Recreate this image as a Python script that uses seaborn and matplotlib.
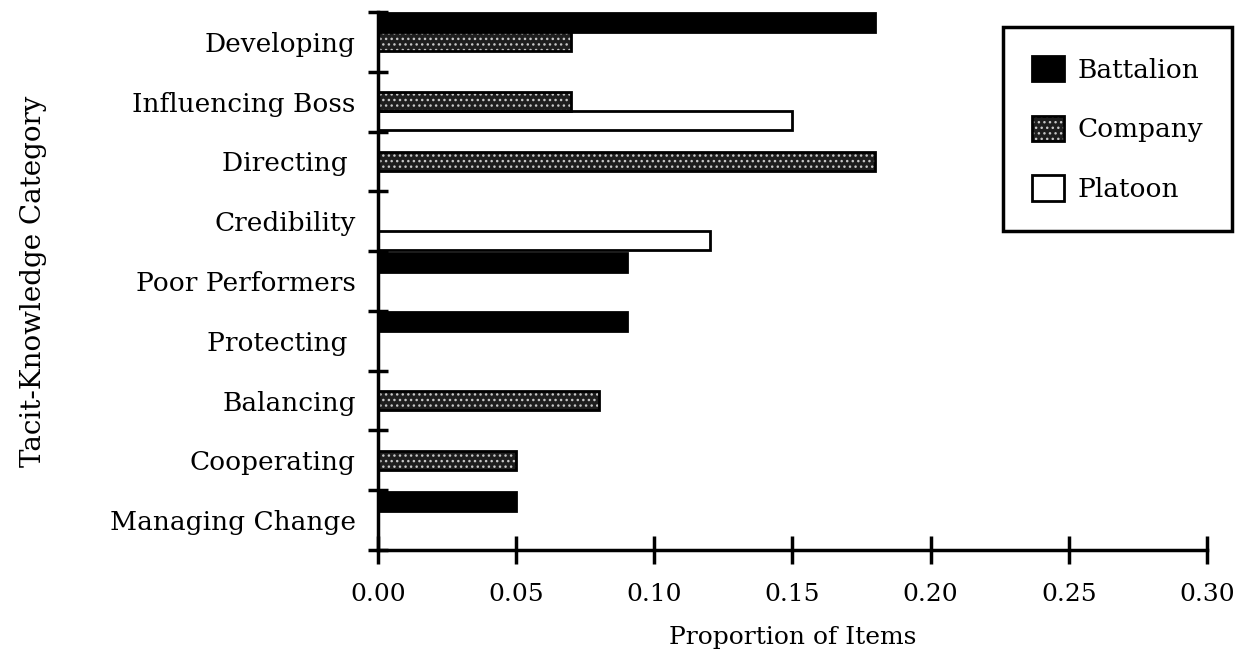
import matplotlib
matplotlib.use("Agg")
import matplotlib.pyplot as plt
from matplotlib.patches import Patch, Rectangle
from matplotlib.legend_handler import HandlerTuple
from matplotlib.ticker import FixedLocator
import pandas as pd
import seaborn as sns

CATEGORIES = [
    "Developing", "Influencing Boss", "Directing ", "Credibility",
    "Poor Performers", "Protecting ", "Balancing", "Cooperating",
    "Managing Change",
]
LEVELS = ["Battalion", "Company", "Platoon"]
BATTALION = [0.18, 0.00, 0.00, 0.00, 0.09, 0.09, 0.00, 0.00, 0.05]
COMPANY = [0.07, 0.07, 0.18, 0.00, 0.00, 0.00, 0.08, 0.05, 0.00]
PLATOON = [0.00, 0.15, 0.00, 0.12, 0.00, 0.00, 0.00, 0.00, 0.00]
X_TICKS = [0.00, 0.05, 0.10, 0.15, 0.20, 0.25, 0.30]

FACE = {"Battalion": "black", "Company": "#1e1e1e", "Platoon": "white"}


def main() -> None:
    sns.set_theme(style="white")
    plt.rcParams["font.family"] = ["DejaVu Serif"]
    plt.rcParams["hatch.linewidth"] = 1.0
    for key in ("text.color", "axes.labelcolor", "xtick.color", "ytick.color"):
        plt.rcParams[key] = "black"

    rows = []
    for level, vals in zip(LEVELS, (BATTALION, COMPANY, PLATOON)):
        for cat, v in zip(CATEGORIES, vals):
            rows.append({"category": cat, "level": level, "prop": v})
    df = pd.DataFrame(rows)

    fig = plt.figure(figsize=(12.4, 6.56), dpi=100)
    ax = fig.add_axes([0.3048, 0.1616, 0.6686, 0.8201])
    sns.barplot(data=df, y="category", x="prop", hue="level", order=CATEGORIES,
                hue_order=LEVELS, orient="h", width=0.95, ax=ax,
                palette=FACE, saturation=1, legend=False)

    for level, cont in zip(LEVELS, ax.containers):
        for p in cont:
            p.set_facecolor(FACE[level])
            if level == "Company":
                # white dot texture, black outline drawn on top
                p.set_edgecolor("#c8c8c8")
                p.set_hatch("...")
                p.set_linewidth(0)
                ax.add_patch(Rectangle(p.get_xy(), p.get_width(), p.get_height(),
                                       fill=False, edgecolor="black", linewidth=2))
            else:
                p.set_edgecolor("black")
                p.set_linewidth(2)

    ax.set_xlim(0, 0.30)
    ax.set_ylim(len(CATEGORIES) - 0.5, -0.5)
    ax.set_xticks(X_TICKS)
    ax.set_xticklabels([f"{t:.2f}" for t in X_TICKS])
    ax.yaxis.set_minor_locator(FixedLocator([i - 0.5 for i in range(len(CATEGORIES) + 1)]))
    ax.tick_params(axis="y", which="major", length=0, pad=16, labelsize=19)
    ax.tick_params(axis="y", which="minor", left=True, direction="inout", length=14, width=2.5)
    ax.tick_params(axis="x", which="major", bottom=True, direction="inout", length=20,
                   width=2.5, pad=14, labelsize=18)

    for side in ("top", "right"):
        ax.spines[side].set_visible(False)
    for side in ("left", "bottom"):
        ax.spines[side].set_color("black")
        ax.spines[side].set_linewidth(2.5)

    ax.set_xlabel("Proportion of Items", fontsize=18, labelpad=14)
    ax.set_ylabel("Tacit-Knowledge Category", fontsize=20, labelpad=45)

    handles = [
        Patch(facecolor="black", edgecolor="black", linewidth=2),
        (Patch(facecolor=FACE["Company"], edgecolor="#c8c8c8", hatch="...", linewidth=0),
         Patch(fill=False, edgecolor="black", linewidth=2)),
        Patch(facecolor="white", edgecolor="black", linewidth=2),
    ]
    leg = fig.legend(handles=handles, labels=LEVELS, loc="upper right",
                     bbox_to_anchor=(0.9935, 0.9588),
                     handler_map={tuple: HandlerTuple(ndivide=1, pad=0)},
                     fontsize=19, frameon=True, fancybox=False, handlelength=1.2,
                     handleheight=1.1, handletextpad=0.5, labelspacing=1.25,
                     borderpad=1.1, borderaxespad=0)
    leg.get_frame().set_edgecolor("black")
    leg.get_frame().set_linewidth(2.5)
    leg.get_frame().set_alpha(1)

    fig.savefig("out.png", dpi=100)
    plt.close(fig)


if __name__ == "__main__":
    main()
